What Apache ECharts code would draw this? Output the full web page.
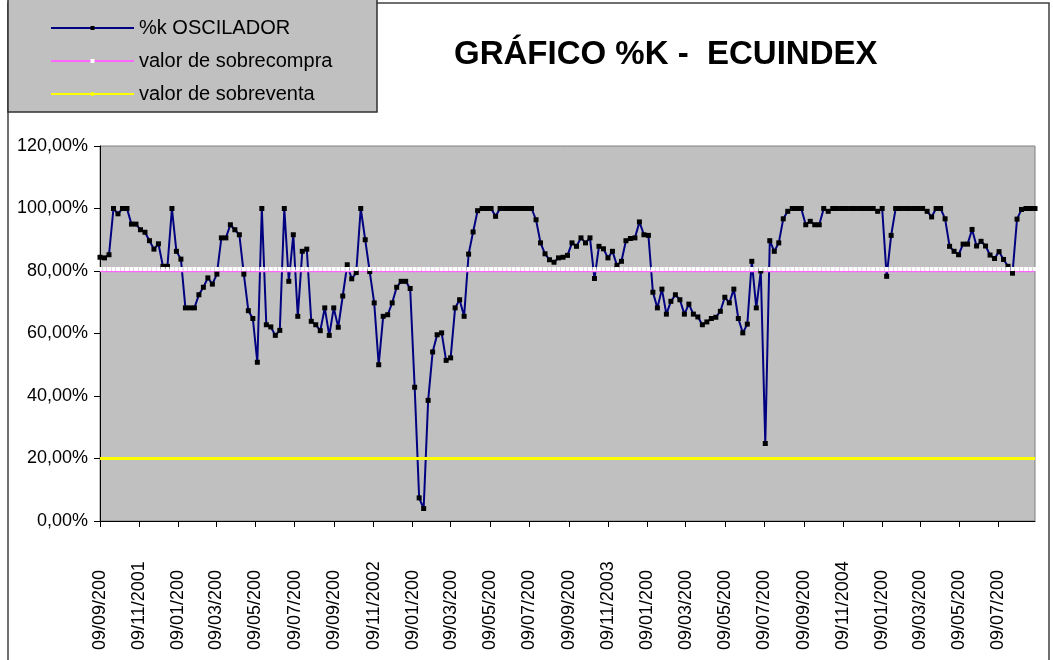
<!DOCTYPE html>
<html>
<head>
<meta charset="utf-8">
<script src="https://cdn.jsdelivr.net/npm/echarts@6/dist/echarts.min.js"></script>
<style>
html, body { margin: 0; padding: 0; background: #fff; }
#chart { width: 1053px; height: 660px; }
</style>
</head>
<body>
<div id="chart"></div>
<script>
// weekly %K values (percent), first week 09/09/2001
var startDay = '2001-09-09'
var kValues = [
    84.4, 84.2, 85.2, 100, 98.3, 100, 100, 95.0, 95.0, 93.2,
    92.4, 89.7, 87.0, 88.7, 81.5, 81.5, 100, 86.3, 83.8, 68.2,
    68.2, 68.2, 72.4, 74.8, 77.8, 75.8, 79.0, 90.6, 90.6, 94.8,
    93.2, 91.6, 79.0, 67.3, 64.8, 50.8, 100, 62.8, 62.1, 59.4,
    61.0, 100, 76.7, 91.6, 65.5, 86.3, 87.0, 63.9, 62.8, 60.9,
    68.2, 59.4, 68.2, 62.0, 72.0, 82.0, 77.5, 79.5, 100, 90.0,
    79.8, 69.8, 50.0, 65.5, 66.0, 69.8, 74.8, 76.7, 76.7, 74.4,
    42.8, 7.4, 4.0, 38.6, 54.1, 59.6, 60.2, 51.4, 52.2, 68.2,
    70.8, 65.5, 85.4, 92.5, 99.3, 100, 100, 100, 97.5, 100,
    100, 100, 100, 100, 100, 100, 100, 96.4, 89.0, 85.5,
    83.6, 82.8, 84.2, 84.4, 85.0, 89.0, 87.9, 90.6, 89.0, 90.6,
    77.6, 87.9, 87.1, 84.2, 86.3, 81.8, 83.1, 89.7, 90.4, 90.6,
    95.7, 91.6, 91.4, 73.2, 68.2, 74.2, 66.2, 70.3, 72.4, 70.8,
    66.2, 69.4, 66.2, 65.3, 62.8, 63.7, 64.8, 65.2, 67.1, 71.6,
    69.8, 74.2, 64.8, 60.2, 63.0, 83.1, 68.2, 80.0, 24.8, 89.7,
    86.3, 89.0, 96.7, 99.1, 100, 100, 100, 94.8, 95.9, 94.8,
    94.8, 100, 99.1, 100, 100, 100, 100, 100, 100, 100,
    100, 100, 100, 99.1, 100, 78.3, 91.4, 100, 100, 100,
    100, 100, 100, 100, 99.1, 97.3, 100, 100, 96.7, 87.9,
    86.3, 85.2, 88.6, 88.6, 93.3, 88.0, 89.5, 88.0, 85.1, 84.0,
    86.2, 83.7, 81.5, 79.3, 96.6, 99.7, 100, 100, 100
]
var overbought = 80
var oversold = 20

// x axis ticks every two months, labels as printed (cut short)
var tickDays = [
    '2001-09-09', '2001-11-09', '2002-01-09', '2002-03-09', '2002-05-09', '2002-07-09',
    '2002-09-09', '2002-11-09', '2003-01-09', '2003-03-09', '2003-05-09', '2003-07-09',
    '2003-09-09', '2003-11-09', '2004-01-09', '2004-03-09', '2004-05-09', '2004-07-09',
    '2004-09-09', '2004-11-09', '2005-01-09', '2005-03-09', '2005-05-09', '2005-07-09'
]
var tickLabels = [
    '09/09/200', '09/11/2001', '09/01/200', '09/03/200', '09/05/200', '09/07/200',
    '09/09/200', '09/11/2002', '09/01/200', '09/03/200', '09/05/200', '09/07/200',
    '09/09/200', '09/11/2003', '09/01/200', '09/03/200', '09/05/200', '09/07/200',
    '09/09/200', '09/11/2004', '09/01/200', '09/03/200', '09/05/200', '09/07/200'
]
var yTicks = [0, 20, 40, 60, 80, 100, 120]

var DAY = 86400000
function toTime(s) {
    var p = s.split('-')
    return Date.UTC(+p[0], +p[1] - 1, +p[2])
}
var t0 = toTime(startDay)
var weeks = kValues.map(function (v, i) { return t0 + i * 7 * DAY })
var tickTimes = tickDays.map(toTime)

var font = "'Liberation Sans', Arial, sans-serif"
var chart = echarts.init(document.getElementById('chart'))

chart.setOption({
    animation: false,
    backgroundColor: '#fff',
    textStyle: { fontFamily: font },
    title: {
        text: 'GRÁFICO %K -  ECUINDEX',
        left: 449, top: 33,
        textStyle: { fontFamily: font, fontSize: 33, fontWeight: 'bold', color: '#000' }
    },
    graphic: [
        { type: 'rect', z: -1, shape: { x: 8, y: 3, width: 1041, height: 720 },
          style: { fill: 'none', stroke: '#404040', lineWidth: 1.5 } },
        { type: 'rect', z: 1, shape: { x: 8, y: -3, width: 369, height: 115 },
          style: { fill: '#c0c0c0', stroke: '#303030', lineWidth: 1.5 } }
    ],
    legend: {
        orient: 'vertical',
        left: 45, top: 11,
        itemWidth: 83, itemHeight: 5, itemGap: 9,
        selectedMode: false,
        textStyle: { fontFamily: font, fontSize: 20, color: '#000', lineHeight: 24 },
        data: ['%k OSCILADOR', 'valor de sobrecompra', 'valor de sobreventa']
    },
    grid: {
        left: 100, top: 146, right: 18, bottom: 139,
        outerBoundsMode: 'none',
        show: true, backgroundColor: '#c0c0c0', borderColor: '#808080', borderWidth: 1
    },
    xAxis: {
        type: 'value',
        min: weeks[0], max: weeks[weeks.length - 1],
        axisLine: { onZero: false, lineStyle: { color: '#000', width: 1 } },
        axisTick: { show: true, customValues: tickTimes, length: 6, lineStyle: { color: '#000' } },
        splitLine: { show: false },
        axisLabel: {
            customValues: tickTimes,
            rotate: 90, align: 'left', margin: 129,
            fontFamily: font, fontSize: 18, color: '#000',
            formatter: function (v) {
                var k = 0
                for (var j = 1; j < tickTimes.length; j++) {
                    if (Math.abs(tickTimes[j] - v) < Math.abs(tickTimes[k] - v)) k = j
                }
                return tickLabels[k]
            }
        }
    },
    yAxis: {
        type: 'value',
        min: yTicks[0], max: yTicks[yTicks.length - 1], interval: 20,
        axisLine: { show: true, lineStyle: { color: '#000', width: 1 } },
        axisTick: { show: true, length: 6, lineStyle: { color: '#000' } },
        splitLine: { show: false },
        axisLabel: {
            margin: 12, fontFamily: font, fontSize: 18, color: '#000',
            formatter: function (v) { return v.toFixed(2).replace('.', ',') + '%' }
        }
    },
    series: [
        {
            name: '%k OSCILADOR', type: 'line', silent: true,
            data: weeks.map(function (t, i) { return [t, kValues[i]] }),
            symbol: 'rect', symbolSize: 5, showAllSymbol: true,
            lineStyle: { color: '#000080', width: 2 },
            itemStyle: { color: '#000' }
        },
        {
            name: 'valor de sobrecompra', type: 'line', silent: true,
            data: weeks.map(function (t) { return [t, overbought] }),
            symbol: 'rect', symbolSize: [4, 4], symbolOffset: [0, -2], showAllSymbol: true,
            lineStyle: { color: '#ff66ff', width: 2.5 },
            itemStyle: { color: '#fff' }
        },
        {
            name: 'valor de sobreventa', type: 'line', silent: true,
            data: weeks.map(function (t) { return [t, oversold] }),
            symbol: 'none',
            lineStyle: { color: '#ffff00', width: 3 },
            itemStyle: { color: '#ffff00' }
        }
    ]
})
</script>
</body>
</html>
